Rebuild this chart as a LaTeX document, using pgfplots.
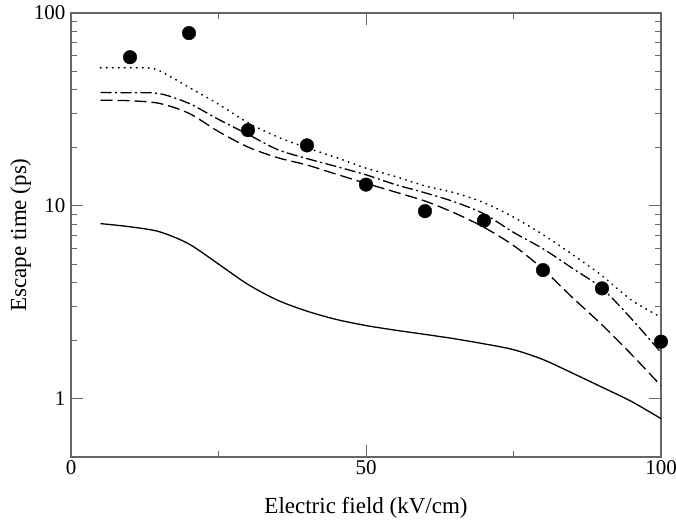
\documentclass[border=0pt]{standalone}
\usepackage{fontspec}
\setmainfont{Liberation Serif}
\usepackage{pgfplots}
\pgfplotsset{compat=1.18}

\begin{document}
\begin{tikzpicture}
\begin{semilogyaxis}[
scale only axis,
width=590pt, height=444pt,
xmin=0, xmax=100,
ymin=0.5, ymax=100,
xtick={0,50,100},
minor xtick={25,75},
ytick={1,10,100},
yticklabels={1,10,100},
major tick length=12pt,
minor tick length=6pt,
tick align=inside,
axis line style={black!60, line width=1.1pt},
every tick/.style={black!60, line width=1pt},
/pgf/number format/assume math mode=true,
tick label style={font=\fontsize{21}{24}\selectfont},
yticklabel style={xshift=-2pt},
label style={font=\fontsize{23}{26}\selectfont},
xlabel={Electric field (kV/cm)},
ylabel={Escape time (ps)},
xlabel style={yshift=-16pt},
ylabel style={yshift=-4pt},
clip=false,
]

% solid
\addplot[black, line width=1.3pt, smooth] coordinates {
(5,8.1) (10,7.8) (15,7.35) (20,6.35) (25,5.0) (30,3.92) (35,3.25) (40,2.85)
(45,2.58) (50,2.4) (55,2.27) (60,2.16) (65,2.05) (70,1.93) (75,1.8) (80,1.6)
(85,1.36) (90,1.15) (95,0.97) (100,0.79)
};

% dashed
\addplot[black, line width=1.3pt, smooth, dash pattern=on 12pt off 5pt] coordinates {
(5,35.3) (10,35.1) (15,34) (20,30.2) (25,24.3) (30,20.2) (35,17.8) (40,16.3)
(45,14.6) (50,13.1) (55,11.8) (60,10.6) (65,9.2) (70,7.75) (75,6.24) (80,4.7)
(85,3.35) (90,2.42) (95,1.7) (100,1.17)
};

% dash-dot
\addplot[black, line width=1.3pt, smooth, dash pattern=on 11pt off 3.5pt on 2pt off 3.5pt] coordinates {
(5,38.7) (10,38.6) (15,38.2) (20,34) (25,28.1) (30,23.5) (35,19.6) (40,17.6)
(45,16) (50,14.5) (55,12.9) (60,11.7) (65,10.5) (70,9.1) (75,7.3) (80,6.0)
(85,4.75) (90,3.74) (95,2.6) (100,1.74)
};

% dotted
\addplot[black, line width=1.6pt, smooth, line cap=round, dash pattern=on 0.6pt off 5.4pt] coordinates {
(5,52) (10,52) (14,51.5) (17,46.5) (20,41.2) (25,33.7) (30,27) (35,22.8)
(40,20) (45,17.8) (50,15.7) (55,14.2) (60,12.7) (65,11.7) (70,10.4) (75,8.75)
(80,7.1) (85,5.6) (90,4.35) (95,3.25) (100,2.65)
};

% measured points
\addplot[only marks, mark=*, mark size=6.8pt, black] coordinates {
(10,59) (20,78.7) (30,24.7) (40,20.6) (50,12.9) (60,9.4) (70,8.4) (80,4.65)
(90,3.74) (100,1.98)
};

\end{semilogyaxis}
\pgfresetboundingbox
\useasboundingbox ([shift={(-71pt,-62pt)}]current axis.south west)
  rectangle ([shift={(15pt,13pt)}]current axis.north east);
\end{tikzpicture}
\end{document}
